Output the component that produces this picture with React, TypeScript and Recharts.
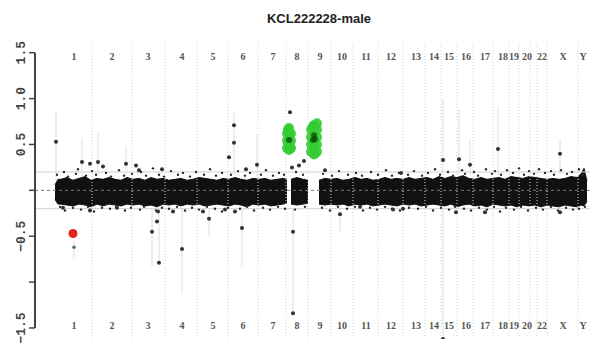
import { ComposedChart, XAxis, YAxis, Area, Scatter, ReferenceLine, ErrorBar } from "recharts";

const TITLE = "KCL222228-male";

// genome index units (0..555) along the x axis
const chromLabels = ["1", "2", "3", "4", "5", "6", "7", "8", "9", "10", "11", "12", "13", "14", "15", "16", "17", "18", "19", "20", "22", "X", "Y"];
const chromCenters = [39, 77, 113, 147, 178, 208, 238, 262, 285, 307, 331, 356, 381, 399, 414, 431, 450, 468, 479, 492, 507, 528, 548];
const chromBounds = [57, 97, 130, 162, 193, 223, 251, 273, 296, 318, 343, 368, 390, 406, 422, 438, 458, 474, 484, 495, 502, 512, 543];

const yTicks = [-1.5, -1, -0.5, 0, 0.5, 1, 1.5];
const yTickText: Record<string, string> = { "1.5": "1.5", "1": "1.0", "0.5": "0.5", "-0.5": "\u22120.5", "-1.5": "\u22121.5" };

// dense probe band: [pos, low, high]
const bandEnvelope: [number, number | null, number | null][] = [
    [20, -0.1, 0.06], [23, -0.15, 0.12], [26, -0.15, 0.12], [32, -0.16, 0.14], [38, -0.17, 0.11], [44, -0.15, 0.13],
    [50, -0.16, 0.15], [56, -0.18, 0.11], [62, -0.15, 0.13], [68, -0.17, 0.12], [74, -0.15, 0.14], [80, -0.16, 0.12],
    [86, -0.17, 0.11], [92, -0.15, 0.14], [98, -0.16, 0.12], [104, -0.15, 0.13], [110, -0.17, 0.11], [116, -0.16, 0.14],
    [122, -0.18, 0.12], [128, -0.15, 0.13], [134, -0.16, 0.11], [140, -0.15, 0.12], [146, -0.17, 0.13], [152, -0.15, 0.11],
    [158, -0.16, 0.12], [164, -0.15, 0.14], [170, -0.17, 0.13], [176, -0.16, 0.12], [182, -0.15, 0.11], [188, -0.16, 0.13],
    [194, -0.17, 0.12], [200, -0.15, 0.14], [206, -0.16, 0.12], [212, -0.18, 0.11], [218, -0.15, 0.13], [224, -0.16, 0.12],
    [230, -0.15, 0.13], [236, -0.17, 0.11], [242, -0.16, 0.12], [248, -0.15, 0.13], [252, -0.14, 0.12], [254, null, null],
    [256, -0.15, 0.12], [262, -0.16, 0.14], [268, -0.15, 0.12], [273, -0.14, 0.11], [278, null, null],
    [284, -0.15, 0.11], [290, -0.16, 0.13], [296, -0.15, 0.12], [302, -0.16, 0.13], [308, -0.15, 0.11], [314, -0.17, 0.12],
    [320, -0.15, 0.14], [326, -0.16, 0.12], [332, -0.15, 0.13], [338, -0.17, 0.11], [344, -0.16, 0.12], [350, -0.15, 0.14],
    [356, -0.16, 0.12], [362, -0.17, 0.13], [368, -0.15, 0.12], [374, -0.16, 0.14], [380, -0.15, 0.12], [386, -0.17, 0.13],
    [392, -0.16, 0.14], [398, -0.15, 0.12], [404, -0.16, 0.15], [410, -0.17, 0.13], [416, -0.15, 0.15], [422, -0.18, 0.14],
    [428, -0.16, 0.16], [434, -0.15, 0.13], [440, -0.17, 0.12], [446, -0.16, 0.14], [452, -0.18, 0.12], [458, -0.15, 0.13],
    [464, -0.16, 0.14], [470, -0.17, 0.12], [476, -0.16, 0.15], [482, -0.18, 0.14], [488, -0.16, 0.13], [494, -0.17, 0.15],
    [500, -0.16, 0.14], [506, -0.18, 0.13], [512, -0.16, 0.12], [518, -0.17, 0.13], [524, -0.18, 0.12], [530, -0.16, 0.13],
    [536, -0.17, 0.15], [542, -0.18, 0.14], [546, -0.16, 0.18], [549, -0.17, 0.24], [552, -0.12, 0.1],
];

// scattered probes at the edge of the band: [pos, value]
const fringeProbes: [number, number][] = [
    [22, 0.17], [29, 0.2], [33, 0.15], [41, 0.18], [43, 0.23], [51, 0.16], [57, 0.21], [61, 0.17], [71, 0.19], [76, 0.15],
    [84, 0.22], [89, 0.16], [97, 0.18], [106, 0.2], [111, 0.16], [118, 0.24], [124, 0.17], [129, 0.15], [136, 0.21], [143, 0.17],
    [148, 0.19], [155, 0.15], [161, 0.2], [169, 0.17], [175, 0.23], [181, 0.16], [187, 0.19], [196, 0.17], [203, 0.21], [210, 0.16],
    [215, 0.19], [226, 0.17], [231, 0.22], [238, 0.16], [244, 0.19], [249, 0.17], [261, 0.2], [268, 0.17], [288, 0.18], [297, 0.16],
    [304, 0.21], [313, 0.17], [321, 0.19], [327, 0.16], [336, 0.2], [343, 0.17], [351, 0.22], [357, 0.16], [364, 0.19], [373, 0.17],
    [379, 0.21], [387, 0.16], [393, 0.19], [400, 0.23], [405, 0.17], [413, 0.2], [418, 0.16], [427, 0.22], [430, 0.18], [439, 0.2],
    [443, 0.16], [451, 0.23], [457, 0.18], [460, 0.21], [466, 0.17], [472, 0.22], [478, 0.19], [484, 0.24], [489, 0.17], [494, 0.21],
    [499, 0.18], [504, 0.23], [510, 0.19], [516, 0.21], [519, 0.17], [526, 0.22], [532, 0.18], [537, 0.2], [544, 0.23], [548, 0.17],
    [25, -0.18], [30, -0.22], [38, -0.19], [46, -0.21], [53, -0.18], [59, -0.23], [67, -0.19], [75, -0.2], [81, -0.18], [90, -0.22],
    [96, -0.19], [105, -0.21], [109, -0.18], [121, -0.22], [127, -0.19], [134, -0.2], [142, -0.18], [150, -0.22], [157, -0.19], [164, -0.21],
    [172, -0.18], [180, -0.2], [187, -0.23], [193, -0.19], [205, -0.2], [212, -0.18], [219, -0.22], [228, -0.19], [235, -0.21], [243, -0.18],
    [250, -0.2], [260, -0.21], [270, -0.18], [287, -0.19], [295, -0.22], [303, -0.18], [312, -0.2], [320, -0.18], [328, -0.22], [335, -0.19],
    [342, -0.21], [350, -0.18], [357, -0.2], [365, -0.22], [374, -0.19], [383, -0.2], [391, -0.18], [398, -0.22], [406, -0.19], [414, -0.21],
    [420, -0.18], [429, -0.2], [436, -0.22], [444, -0.19], [452, -0.21], [459, -0.18], [465, -0.23], [471, -0.19], [479, -0.21], [486, -0.18],
    [493, -0.22], [501, -0.19], [508, -0.21], [516, -0.18], [523, -0.22], [531, -0.19], [538, -0.21], [544, -0.2], [550, -0.18],
];

// isolated probes: [pos, value]
const outlierProbes: [number, number][] = [
    [21, 0.53], [47, 0.31], [55, 0.29], [63, 0.31], [68, 0.26], [91, 0.29], [101, 0.27], [104, 0.22], [127, 0.23],
    [194, 0.36], [199, 0.71], [199, 0.52], [211, 0.23], [222, 0.28], [255, 0.85], [257, 0.25], [264, 0.27], [269, 0.32],
    [290, 0.22], [366, 0.19], [408, 0.33], [424, 0.34], [435, 0.28], [463, 0.45], [525, 0.4],
    [28, -0.19], [55, -0.22], [82, -0.19], [117, -0.45], [122, -0.34], [123, -0.23], [124, -0.79], [138, -0.23],
    [147, -0.64], [168, -0.23], [174, -0.31], [190, -0.21], [200, -0.23], [207, -0.41], [258, -0.45], [258, -1.34],
    [305, -0.26], [325, -0.18], [358, -0.21], [368, -0.2], [408, -1.62], [421, -0.24], [450, -0.24], [525, -0.24],
];

// faint vertical segments behind probes: [pos, low, high]
const segmentWhiskers: [number, number, number][] = [
    [21, 0.1, 0.86], [47, 0.16, 0.57], [63, 0.16, 0.63], [91, 0.16, 0.48], [199, 0.16, 0.85], [222, 0.16, 0.61],
    [408, 0.17, 0.99], [424, 0.17, 0.88], [435, 0.17, 0.55], [463, 0.17, 0.91], [525, 0.17, 0.55],
    [39, -0.74, -0.55], [117, -0.83, -0.2], [124, -0.8, -0.2], [147, -1.12, -0.2], [207, -0.83, -0.2],
    [258, -1.36, -0.2], [305, -0.46, -0.2], [408, -1.62, -0.2], [174, -0.5, -0.2],
];

// gained regions (chr8, chr9)
const gainProbes: [number, number][] = [
    [252, 0.46], [252, 0.54], [252, 0.62], [254, 0.44], [254, 0.5], [254, 0.56], [254, 0.62], [254, 0.68],
    [256, 0.46], [256, 0.54], [256, 0.62], [253, 0.66], [255, 0.48],
    [276, 0.42], [276, 0.5], [276, 0.58], [276, 0.66], [279, 0.39], [279, 0.47], [279, 0.55], [279, 0.63],
    [279, 0.71], [282, 0.42], [282, 0.5], [282, 0.58], [282, 0.66], [282, 0.73], [278, 0.7], [280, 0.4],
];
const gainCore: [number, number][] = [[278, 0.55], [279, 0.6], [280, 0.56], [254, 0.55]];

const lossProbes: [number, number][] = [[38, -0.47]];
const lossTail: [number, number][] = [[39, -0.62]];

const toPoints = (rows: [number, number][]) => rows.map(([pos, val]) => ({ pos, val }));

const bandData = bandEnvelope.map(([pos, lo, hi]) => ({ pos, band: lo === null || hi === null ? null : [lo, hi] }));
const whiskerData = segmentWhiskers.map(([pos, lo, hi]) => {
    const mid = (lo + hi) / 2;
    return { pos, val: mid, err: [mid - lo, hi - mid] };
});
const topLabels = chromLabels.map((label, i) => ({ pos: chromCenters[i], val: 1.458, label }));
const bottomLabels = chromLabels.map((label, i) => ({ pos: chromCenters[i], val: -1.476, label }));

const dot = (r: number, fill: string, opacity = 1) => (props: any) =>
    <circle cx={props.cx} cy={props.cy} r={r} fill={fill} fillOpacity={opacity} />;

const chromText = (props: any) => (
    <text x={props.cx} y={props.cy} textAnchor="middle" dominantBaseline="central"
        fontSize={10} fontFamily="Liberation Serif" fontWeight="bold" fill="#555">
        {props.payload.label}
    </text>
);

const YTick = (props: any) => {
    const { y, payload } = props;
    const text = yTickText[String(payload.value)];
    if (!text) return null;
    return (
        <text x={25} y={y} transform={`rotate(-90 25 ${y})`} textAnchor="middle"
            fontSize={13} fontFamily="Liberation Mono" fontWeight="bold" fill="#444">
            {text}
        </text>
    );
};

export default function App() {
    return (
        <div style={{ position: "absolute", left: 0, top: 0, width: 593, height: 350, background: "#fff" }}>
            <div style={{
                position: "absolute", left: 219, top: 11, width: 200, textAlign: "center",
                fontFamily: "Liberation Sans", fontWeight: "bold", fontSize: 13, color: "#222"
            }}>
                {TITLE}
            </div>
            <ComposedChart width={593} height={350} data={bandData}
                margin={{ top: 41.7, right: 3, bottom: 11, left: 0 }}>
                <XAxis type="number" dataKey="pos" domain={[0, 555]} hide allowDataOverflow />
                <YAxis type="number" dataKey="val" domain={[-1.62, 1.62]} ticks={yTicks} width={35}
                    axisLine={false} tickSize={6} tickLine={{ stroke: "#444", strokeWidth: 1.5 }}
                    tick={<YTick />} interval={0} allowDataOverflow />

                {chromBounds.map((b) => (
                    <ReferenceLine key={`b-${b}`} x={b} stroke="#d6d6d6" strokeDasharray="1 2" />
                ))}
                <ReferenceLine y={0.2} stroke="#cfcfcf" />
                <ReferenceLine y={-0.2} stroke="#cfcfcf" />
                <ReferenceLine y={0} stroke="#777" strokeDasharray="3 3" />
                <ReferenceLine segment={[{ x: 0, y: -1.5 }, { x: 0, y: 1.5 }]} stroke="#444" strokeWidth={2} />

                <Scatter data={whiskerData} shape={() => <g />} isAnimationActive={false}>
                    <ErrorBar dataKey="err" direction="y" width={0} stroke="#dedede" strokeWidth={1} isAnimationActive={false} />
                </Scatter>

                <Area dataKey="band" type="linear" stroke="#111" strokeWidth={1} fill="#111" fillOpacity={1}
                    dot={false} activeDot={false} isAnimationActive={false} />

                <Scatter data={toPoints(fringeProbes)} shape={dot(1.2, "#2a2a2a")} isAnimationActive={false} />
                <Scatter data={toPoints(outlierProbes)} shape={dot(2, "#333")} isAnimationActive={false} />
                <Scatter data={toPoints(gainProbes)} shape={dot(5, "#33cc33", 0.9)} isAnimationActive={false} />
                <Scatter data={toPoints(gainCore)} shape={dot(3, "#0b4a0b", 0.75)} isAnimationActive={false} />
                <Scatter data={toPoints(lossProbes)} shape={dot(4.5, "#e3261f")} isAnimationActive={false} />
                <Scatter data={toPoints(lossTail)} shape={dot(1.8, "#4f7d62")} isAnimationActive={false} />

                <Scatter data={topLabels} shape={chromText} isAnimationActive={false} />
                <Scatter data={bottomLabels} shape={chromText} isAnimationActive={false} />
            </ComposedChart>
        </div>
    );
}
